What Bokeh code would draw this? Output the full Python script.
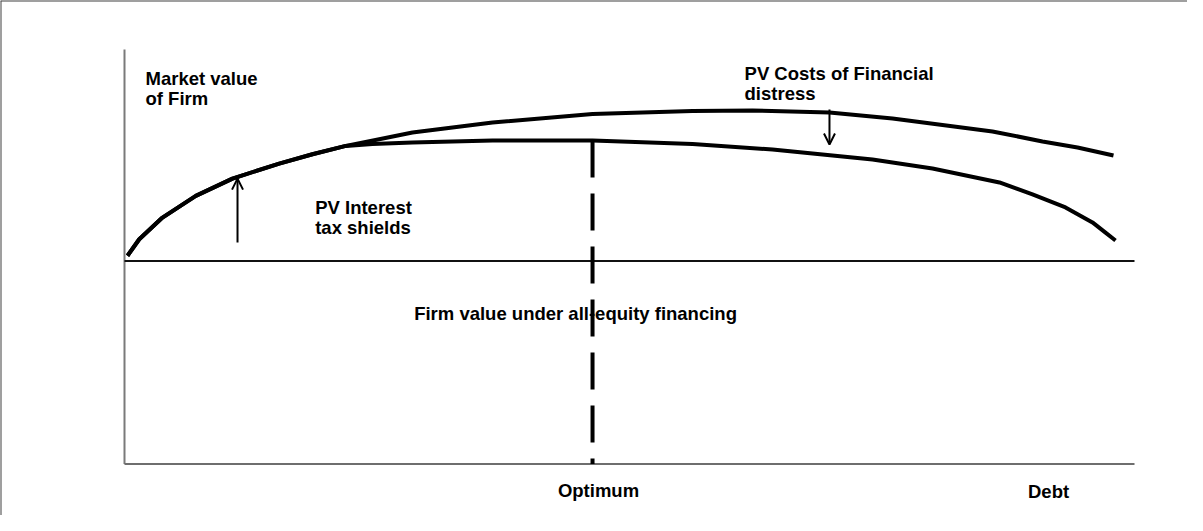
from bokeh.plotting import figure
from bokeh.models import Range1d, ColumnDataSource, Arrow, OpenHead
from bokeh.core.properties import value
from bokeh.embed import file_html
from bokeh.resources import INLINE

# ---------------- data (diagram units: debt 0..100, firm value; all-equity value = 100) ----
debt_upper = [0.3, 1.46, 3.76, 7.06, 10.69, 15.32, 18.61, 21.91, 25.22, 28.51, 36.44,
              46.34, 56.24, 62.18, 69.80, 76.04, 85.94, 90.89, 94.36, 97.92]
value_upper = [102.6, 110.7, 121.4, 132.1, 140.6, 148.0, 152.6, 156.7, 160.0, 163.3, 168.2,
               172.4, 173.9, 174.1, 173.2, 170.2, 163.8, 158.9, 155.9, 152.0]

debt_lower = [0.3, 1.46, 3.76, 7.06, 10.69, 15.32, 18.61, 21.91, 24.55, 28.51, 36.44,
              46.34, 56.24, 64.16, 74.06, 80.0, 86.63, 89.90, 93.17, 95.84, 97.13, 98.12]
value_lower = [102.6, 110.7, 121.4, 132.1, 140.6, 148.0, 152.6, 156.7, 157.6, 158.4, 159.4,
               159.4, 157.6, 154.9, 150.0, 145.6, 138.7, 132.8, 126.4, 119.0, 114.0, 110.1]

all_equity_value = 100.0
debt_max = 100.0
value_axis_top = 204.2
optimum_debt = 46.34
optimum_value = 159.4

shield_arrow = dict(x=11.19, y_from=109.1, y_to=140.6)
distress_arrow = dict(x=69.80, y_from=174.6, y_to=157.4)

label_text = ["Market value", "of Firm", "PV Interest", "tax shields",
              "PV  Costs of Financial", "distress",
              "Firm value under all-equity financing"]
label_x = [2.08, 2.08, 18.88, 18.88, 61.39, 61.39, 28.68]
label_y = [189.9, 180.0, 126.4, 116.5, 192.4, 182.5, 74.3]

tick_text = ["Optimum", "Debt"]
tick_x = [46.93, 91.49]
tick_y = [-13.05, -13.5]

# ---------------- layout -----------------------------------------------------------------
W, H = 1187, 515
PX_X = 10.1      # px per debt unit
PX_Y = 2.03      # px per value unit
ORIG_X = 124     # canvas px of debt = 0
ORIG_Y = 463.5   # canvas px of value = 0

x0 = -ORIG_X / PX_X
x1 = (W - ORIG_X) / PX_X
y1 = ORIG_Y / PX_Y
y0 = (ORIG_Y - H) / PX_Y

p = figure(width=W, height=H, output_backend="svg", toolbar_location=None,
           x_axis_type=None, y_axis_type=None, min_border=0,
           x_range=Range1d(x0, x1), y_range=Range1d(y0, y1))
p.outline_line_color = None
p.grid.visible = False
p.background_fill_color = "white"
p.border_fill_color = "white"

# page border (top and left)
p.line([x0, x1], [y1, y1], line_color="#404040", line_width=2)
p.line([x0, x0], [y0, y1], line_color="#404040", line_width=2)

# axes
p.line([0, 0], [0, value_axis_top], line_color="#7a7a7a", line_width=2)
p.line([0, debt_max], [0, 0], line_color="#6e6e6e", line_width=2)

# all-equity baseline
p.line([0, debt_max], [all_equity_value, all_equity_value], line_color="#111111", line_width=2)

# curves
p.line(debt_upper, value_upper, line_color="black", line_width=4, line_join="round")
p.line(debt_lower, value_lower, line_color="black", line_width=4, line_join="round")

# optimum dashed line
p.line([optimum_debt, optimum_debt], [optimum_value, 0], line_color="black",
       line_width=4, line_dash="37 16")

# arrows
p.add_layout(Arrow(end=OpenHead(size=11, line_width=2, line_color="black"),
                   x_start=shield_arrow["x"], y_start=shield_arrow["y_from"],
                   x_end=shield_arrow["x"], y_end=shield_arrow["y_to"],
                   line_width=2, line_color="black"))
p.add_layout(Arrow(end=OpenHead(size=11, line_width=2, line_color="black"),
                   x_start=distress_arrow["x"], y_start=distress_arrow["y_from"],
                   x_end=distress_arrow["x"], y_end=distress_arrow["y_to"],
                   line_width=2, line_color="black"))

# labels
lab = ColumnDataSource(dict(x=label_x, y=label_y, t=label_text))
p.text(x="x", y="y", text="t", source=lab, text_font=value("Liberation Sans"),
       text_font_style="bold", text_font_size="18.5px", text_color="black",
       text_align="left", text_baseline="alphabetic")

tk = ColumnDataSource(dict(x=tick_x, y=tick_y, t=tick_text))
p.text(x="x", y="y", text="t", source=tk, text_font=value("Liberation Sans"),
       text_font_style="bold", text_font_size="18.5px", text_color="black",
       text_align="center", text_baseline="alphabetic")

open("out.html", "w").write(file_html(p, INLINE))
